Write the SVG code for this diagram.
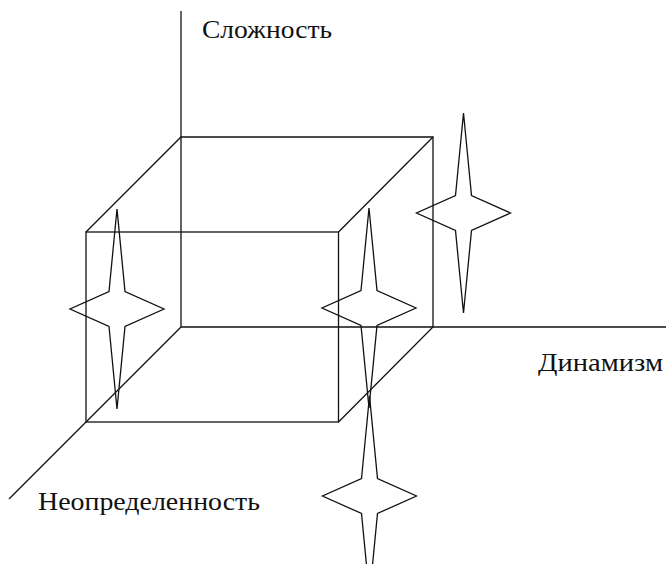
<svg xmlns="http://www.w3.org/2000/svg" xmlns:xlink="http://www.w3.org/1999/xlink" width="666" height="564" viewBox="0 0 666 564">
<style>
.ln{fill:none;stroke:#111;stroke-width:1.3}
.lbl{font-family:"Liberation Serif","Times New Roman",serif;font-size:26px;fill:#111}
</style>
<defs>
<path id="star" class="ln" d="M0,-100 L8,-17.5 L47,0 L8,17.5 L0,100 L-8,17.5 L-47,0 L-8,-17.5 Z"/>
</defs>
<rect width="666" height="564" fill="#fff"/>
<g id="connectors">
<line class="ln" x1="181" y1="11" x2="181" y2="327"/>
<line class="ln" x1="181" y1="327" x2="666" y2="327"/>
<line class="ln" x1="181" y1="327" x2="9" y2="499"/>
</g>
<g id="cube">
<rect class="ln" x="86" y="232" width="252.5" height="190"/>
<polyline class="ln" points="86,232 181,137 433,137 433,327 338.5,422"/>
<line class="ln" x1="338.5" y1="232" x2="433" y2="137"/>
</g>
<g id="star1"><use xlink:href="#star" transform="translate(117,309)"/></g>
<g id="star2"><use xlink:href="#star" transform="translate(369,308)"/></g>
<g id="star3"><use xlink:href="#star" transform="translate(463.5,213)"/></g>
<g id="star4"><use xlink:href="#star" transform="translate(369.5,496)"/></g>
<g id="label-complexity"><text class="lbl" x="202" y="38" textLength="130" lengthAdjust="spacingAndGlyphs">Сложность</text></g>
<g id="label-dynamism"><text class="lbl" x="538" y="370.5" textLength="125" lengthAdjust="spacingAndGlyphs">Динамизм</text></g>
<g id="label-uncertainty"><text class="lbl" x="38" y="510" textLength="222" lengthAdjust="spacingAndGlyphs">Неопределенность</text></g>
</svg>
